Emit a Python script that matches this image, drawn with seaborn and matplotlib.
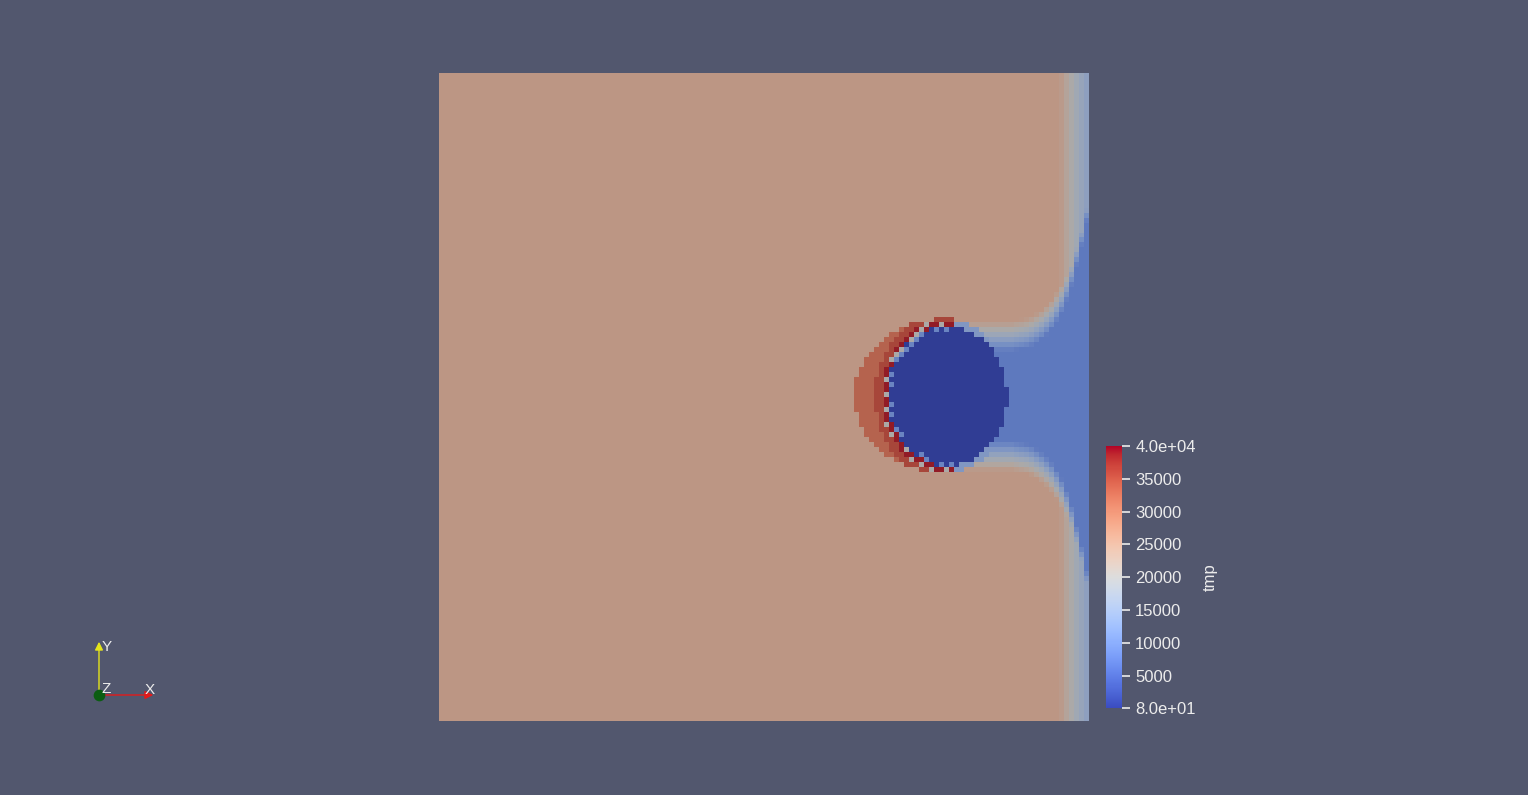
import numpy as np
import matplotlib
matplotlib.use("Agg")
import matplotlib.pyplot as plt
import seaborn as sns
from matplotlib.colors import ListedColormap, Normalize
from matplotlib.cm import ScalarMappable

# field is a 130 x 130 grid of cells
NX, NY = 130, 130

# tmp levels
TMP_BULK = 25300
TMP_WAKE = 7800
TMP_DROP = 80
TMP_RIM_OUTER = 32500
TMP_RIM_INNER = 35500
TMP_EDGE = [39000, 20500]     # spotty layer between drop and rim
TMP_DROP_SKIN = 9500          # light cells just inside the drop edge
TMP_DROP_EDGE = 13000

# drop and the red rim round its left side (cells)
drop_centre = (101.6, 64.8)
drop_radius = (12.0, 14.0)
rim_centre = (101.2, 64.8)
rim_radius = (18.2, 15.4)
rim_right_edge = 103.2

# wake half width (cells) per column, from column 104 to the right wall
wake_first_col = 104
wake_half = [12, 12, 12, 12, 12, 12, 12, 12, 12, 12, 12, 12.2, 12.4,
             12.6, 13, 13.6, 14.3, 15.2, 16.3, 17.8, 19.6, 22, 25, 29, 33, 38]
wake_soft = 6.0

# tmp of the last columns along the right wall, away from the wake
wall_first_col = 124
wall_tmp = [24300, 22300, 20200, 18300, 16500, 15000]

cbar_ticks = [80, 5000, 10000, 15000, 20000, 25000, 30000, 35000, 40000]
cbar_labels = ["8.0e+01", "5000", "10000", "15000", "20000", "25000",
               "30000", "35000", "4.0e+04"]

BG = "#52576e"
TXT = "#ececec"


def build_field():
    field = np.full((NY, NX), float(TMP_BULK))
    cols = np.arange(NX) + 0.5
    rows = np.arange(NY) + 0.5
    X, Y = np.meshgrid(cols, rows)
    I, J = np.meshgrid(np.arange(NX), np.arange(NY))

    for k, t in enumerate(wall_tmp):
        field[:, wall_first_col + k] = t

    dy = np.abs(rows - drop_centre[1])
    for k, hw in enumerate(wake_half):
        c = wake_first_col + k
        f = np.clip((hw - dy) / wake_soft + 0.5, 0, 1)
        field[:, c] = np.minimum(field[:, c], TMP_BULK + f * (TMP_WAKE - TMP_BULK))

    r_drop = np.hypot((X - drop_centre[0]) / drop_radius[0],
                      (Y - drop_centre[1]) / drop_radius[1])
    r_rim = np.hypot((X - rim_centre[0]) / rim_radius[0],
                     (Y - rim_centre[1]) / rim_radius[1])

    rim = (r_rim <= 1) & (r_drop > 1) & (X < rim_right_edge)
    field[rim] = np.where(r_drop[rim] < 1.2, TMP_RIM_INNER, TMP_RIM_OUTER)

    edge = rim & (r_drop < 1.09)
    field[edge] = np.where((I[edge] + J[edge]) % 3 == 0, TMP_EDGE[1], TMP_EDGE[0])

    redge = (r_drop > 1) & (r_drop < 1.09) & (X >= rim_right_edge)
    field[redge] = np.minimum(field[redge], TMP_DROP_EDGE)

    field[r_drop <= 1] = TMP_DROP
    skin = (r_drop <= 1) & (r_drop > 0.93) & (X < rim_right_edge)
    field[skin] = np.where((I[skin] + J[skin]) % 2 == 0, TMP_DROP_SKIN, TMP_DROP)
    return field


field = build_field()

# the surface is lit, so the cells come out darker than the colour bar
base = plt.get_cmap("coolwarm")(np.linspace(0, 1, 256))
shaded = base.copy()
shaded[:, :3] = shaded[:, :3] * 0.75 + 4 / 255
shaded_cmap = ListedColormap(shaded)

fig = plt.figure(figsize=(15.28, 7.95), dpi=100, facecolor=BG)
plt.rcParams["font.family"] = ["Liberation Sans", "DejaVu Sans"]

W, H = 1528, 795
ax = fig.add_axes([439 / W, (H - 721) / H, 650 / W, 648 / H])
sns.heatmap(field, ax=ax, cmap=shaded_cmap, vmin=80, vmax=40000, cbar=False,
            xticklabels=False, yticklabels=False, rasterized=True)
ax.set_xlabel("")
ax.set_ylabel("")

cax = fig.add_axes([1106 / W, (H - 708) / H, 16 / W, 262 / H])
sm = ScalarMappable(norm=Normalize(80, 40000), cmap="coolwarm")
cbar = fig.colorbar(sm, cax=cax)
cbar.outline.set_visible(False)
cbar.set_ticks(cbar_ticks)
cbar.set_ticklabels(cbar_labels)
cax.tick_params(colors=TXT, labelcolor=TXT, length=6, width=1.2,
                labelsize=12, pad=3.5)
cbar.set_label("tmp", rotation=90, color=TXT, fontsize=12, labelpad=5)

# orientation triad, bottom left
ov = fig.add_axes([0, 0, 1, 1], facecolor="none")
ov.set_xlim(0, W)
ov.set_ylim(H, 0)
ov.axis("off")
ov.annotate("", xy=(156, 695), xytext=(99, 695),
            arrowprops=dict(arrowstyle="-|>", color="#e31a1a", lw=1, mutation_scale=12))
ov.annotate("", xy=(99, 639), xytext=(99, 695),
            arrowprops=dict(arrowstyle="-|>", color="#e5e51a", lw=1, mutation_scale=12))
ov.scatter([99], [695], s=55, color="#0b5d12", zorder=3)
ov.text(102, 647, "Y", color=TXT, fontsize=11, va="center")
ov.text(102, 689, "Z", color=TXT, fontsize=11, va="center")
ov.text(145, 690, "X", color=TXT, fontsize=11, va="center")

fig.savefig("out.png", dpi=100, facecolor=BG)
